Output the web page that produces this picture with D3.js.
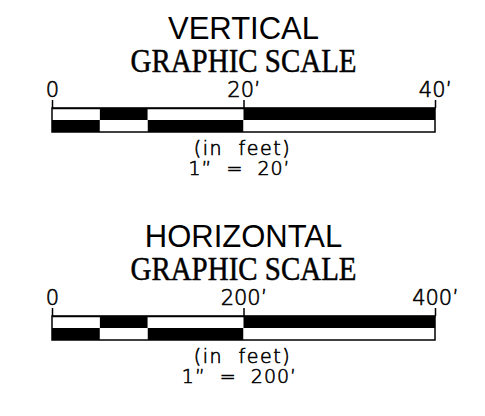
<!DOCTYPE html>
<html>
<head>
<meta charset="utf-8">
<script src="https://cdn.jsdelivr.net/npm/d3@7"></script>
<style>
  body { margin: 0; background: #fff; }
  svg { display: block; }
  .tick line, .domain { stroke: #000; stroke-width: 1.5; }
  .cad { font-family: "DejaVu Sans", sans-serif; font-weight: 200; fill: #000;
         stroke: #000; stroke-width: 0.6; white-space: pre; }
</style>
</head>
<body>
<script>
// scale titles
var titles = ["VERTICAL", "HORIZONTAL"];
var subtitle = "GRAPHIC SCALE";
// tick values for each scale (feet)
var ticksVertical = [0, 20, 40];
var ticksHorizontal = [0, 200, 400];
// segment breaks along each bar (feet)
var breaksVertical = [0, 5, 10, 20, 40];
var breaksHorizontal = [0, 50, 100, 200, 400];
// fill for each segment, top row and bottom row
var topRow = ["white", "black", "white", "black"];
var bottomRow = ["black", "white", "black", "white"];
var unitLabel = "(in  feet)";
var ratioLabels = ["1\u201d  =  20\u2019", "1\u201d  =  200\u2019"];

var width = 485, height = 416;

var svg = d3.select("body").append("svg")
    .attr("width", width)
    .attr("height", height);

var scales = [
  {title: titles[0], ticks: ticksVertical, breaks: breaksVertical, ratio: ratioLabels[0], top: 0},
  {title: titles[1], ticks: ticksHorizontal, breaks: breaksHorizontal, ratio: ratioLabels[1], top: 208}
];

scales.forEach(function(s) {
  var g = svg.append("g").attr("transform", "translate(0," + s.top + ")");

  var x = d3.scaleLinear()
      .domain([s.ticks[0], s.ticks[s.ticks.length - 1]])
      .range([52, 435]);
  var cx = x(s.ticks[1]);

  // titles
  g.append("text")
      .attr("x", cx).attr("y", 39)
      .attr("text-anchor", "middle")
      .style("font-family", "'Liberation Sans', Arial, sans-serif")
      .style("font-size", "31px")
      .text(s.title);

  g.append("text")
      .attr("x", cx).attr("y", 72)
      .attr("text-anchor", "middle")
      .attr("textLength", 226)
      .attr("lengthAdjust", "spacingAndGlyphs")
      .style("font-family", "'Liberation Serif', 'Times New Roman', serif")
      .style("font-size", "33px")
      .style("stroke", "#000")
      .style("stroke-width", 0.5)
      .text(subtitle);

  // bar segments, two rows
  var segs = d3.pairs(s.breaks);
  var barTop = 108, rowH = 12;
  [topRow, bottomRow].forEach(function(fills, r) {
    g.selectAll(null)
      .data(segs)
      .enter().append("rect")
        .attr("x", function(d) { return x(d[0]); })
        .attr("y", barTop + r * rowH)
        .attr("width", function(d) { return x(d[1]) - x(d[0]); })
        .attr("height", rowH)
        .attr("fill", function(d, i) { return fills[i]; });
  });

  // outline
  g.append("rect")
      .attr("x", x.range()[0]).attr("y", barTop)
      .attr("width", x.range()[1] - x.range()[0])
      .attr("height", rowH * 2)
      .attr("fill", "none")
      .attr("stroke", "#000")
      .attr("stroke-width", 1.5);

  // axis with ticks above
  var axis = g.append("g")
      .attr("transform", "translate(0," + barTop + ")")
      .call(d3.axisTop(x)
        .tickValues(s.ticks)
        .tickSize(8)
        .tickSizeOuter(0)
        .tickPadding(3)
        .tickFormat(function(d) { return d === 0 ? "0" : d + "\u2019"; }));
  axis.selectAll("text")
      .attr("class", "cad")
      .style("font-size", "21px")
      .attr("font-family", null)
      .attr("font-size", null);

  // unit text
  g.append("text")
      .attr("class", "cad")
      .attr("x", cx - 1).attr("y", 155)
      .attr("text-anchor", "middle")
      .style("font-size", "19px")
      .style("letter-spacing", "1.6px")
      .text(unitLabel);

  g.append("text")
      .attr("class", "cad")
      .attr("x", cx - 4).attr("y", 175)
      .attr("text-anchor", "middle")
      .style("font-size", "19px")
      .style("letter-spacing", "1px")
      .text(s.ratio);
});
</script>
</body>
</html>
